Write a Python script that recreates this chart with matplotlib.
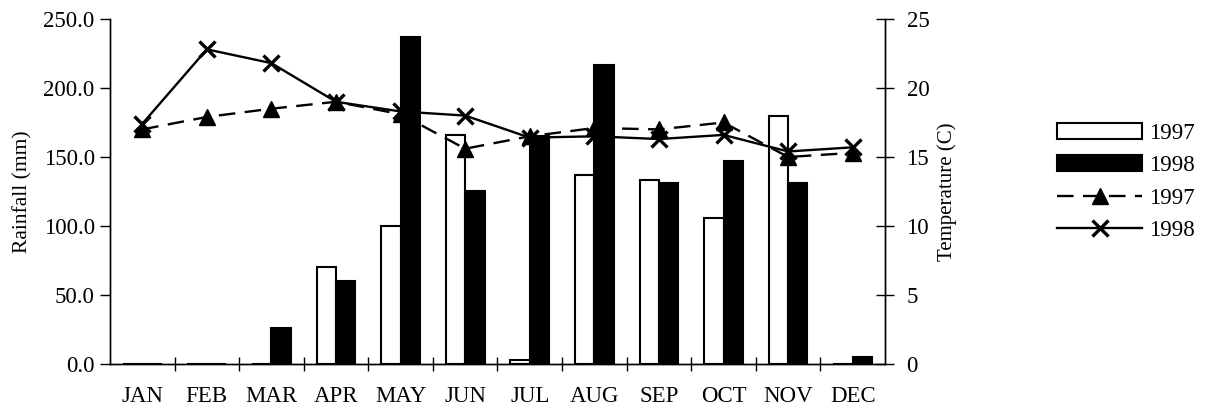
import numpy as np
import matplotlib.pyplot as plt
from matplotlib.patches import Patch
from matplotlib.lines import Line2D

plt.rcParams['font.family'] = ['Liberation Serif', 'DejaVu Serif']

months = ['JAN', 'FEB', 'MAR', 'APR', 'MAY', 'JUN', 'JUL', 'AUG', 'SEP', 'OCT', 'NOV', 'DEC']
rain_1997 = [0, 0, 0, 70, 100, 166, 3, 137, 133, 106, 180, 0]
rain_1998 = [0, 0, 26, 60, 237, 125, 165, 217, 131, 147, 131, 5]
temp_1997 = [17.0, 17.9, 18.5, 19.0, 18.1, 15.6, 16.5, 17.1, 17.0, 17.5, 15.0, 15.3]
temp_1998 = [17.4, 22.8, 21.8, 19.0, 18.3, 18.0, 16.4, 16.5, 16.3, 16.6, 15.4, 15.7]

fs = 16.5
fig = plt.figure(figsize=(12.07, 4.11), dpi=100)
ax = fig.add_axes([0.0911, 0.1144, 0.6421, 0.8394])
ax2 = ax.twinx()

x = np.arange(len(months))
w = 0.3
ax.bar(x - w/2, rain_1997, w, facecolor='white', edgecolor='black', linewidth=1.5)
ax.bar(x + w/2, rain_1998, w, facecolor='black', edgecolor='black', linewidth=1.5)

ax2.plot(x, temp_1997, color='black', linestyle=(0, (7, 4)), linewidth=1.7,
         marker='^', markersize=11)
ax2.plot(x, temp_1998, color='black', linestyle='-', linewidth=1.7,
         marker='x', markersize=12, markeredgewidth=2.4)

ax.set_xlim(-0.5, 11.5)
ax.set_ylim(0, 250)
ax2.set_ylim(0, 25)
ax.set_yticks(np.arange(0, 251, 50))
ax.set_yticklabels(['%.1f' % v for v in np.arange(0, 251, 50)])
ax2.set_yticks(np.arange(0, 26, 5))

ax.set_xticks(x)
ax.set_xticklabels(months)
ax.set_xticks(x[:-1] + 0.5, minor=True)
ax.tick_params(axis='x', which='major', length=0, pad=16, labelsize=fs)
ax.tick_params(axis='x', which='minor', direction='inout', length=10, width=1)
ax.tick_params(axis='y', direction='out', length=7, width=1, pad=4, labelsize=fs)
ax2.tick_params(axis='y', direction='inout', length=13, width=1, pad=9, labelsize=fs)

for a in (ax, ax2):
    a.spines['top'].set_visible(False)
    for s in ('left', 'right', 'bottom'):
        a.spines[s].set_linewidth(1)

ax.set_ylabel('Rainfall (mm)', fontsize=15.5, labelpad=8)
ax2.set_ylabel('Temperature (C)', fontsize=15, labelpad=6)

handles = [
    Patch(facecolor='white', edgecolor='black', linewidth=1.5),
    Patch(facecolor='black', edgecolor='black', linewidth=1.5),
    Line2D([], [], color='black', linestyle=(0, (7, 4)), linewidth=1.7, marker='^', markersize=11),
    Line2D([], [], color='black', linestyle='-', linewidth=1.7, marker='x', markersize=12, markeredgewidth=2.4),
]
fig.legend(handles, ['1997', '1998', '1997', '1998'], loc='upper left',
           bbox_to_anchor=(0.859, 0.752), frameon=False, fontsize=fs,
           handlelength=3.7, handletextpad=0.3, labelspacing=0.5)

fig.savefig('out.png', dpi=100)
